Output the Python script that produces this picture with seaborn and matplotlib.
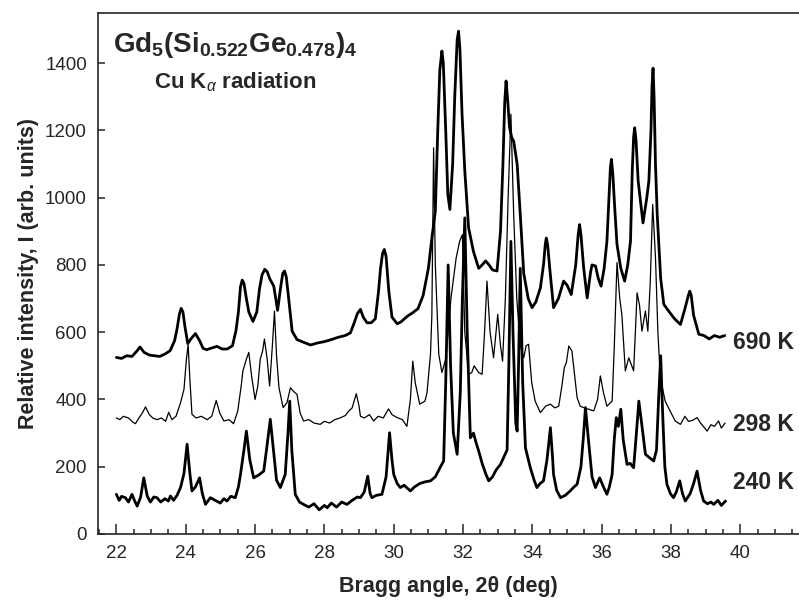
import matplotlib
matplotlib.use("Agg")
import matplotlib.pyplot as plt
from matplotlib.ticker import MultipleLocator
import seaborn as sns
import pandas as pd

# ---- data ----
x_690 = [22.00, 22.15, 22.30, 22.45, 22.60, 22.68, 22.80, 22.95, 23.10, 23.25, 23.40, 23.55, 23.68, 23.75,
         23.82, 23.87, 23.92, 23.98, 24.06, 24.15, 24.28, 24.40, 24.50, 24.60, 24.75, 24.90, 25.05, 25.20,
         25.35, 25.45, 25.52, 25.58, 25.63, 25.68, 25.75, 25.82, 25.94, 26.05, 26.13, 26.20, 26.28, 26.35,
         26.42, 26.54, 26.65, 26.74, 26.80, 26.85, 26.90, 26.97, 27.07, 27.21, 27.40, 27.60, 27.80, 28.00,
         28.20, 28.40, 28.60, 28.75, 28.85, 28.95, 29.04, 29.12, 29.23, 29.35, 29.47, 29.56, 29.62, 29.68,
         29.73, 29.78, 29.86, 29.95, 30.10, 30.20, 30.40, 30.55, 30.70, 30.85, 31.00, 31.10, 31.20, 31.27,
         31.33, 31.39, 31.43, 31.50, 31.56, 31.62, 31.70, 31.76, 31.83, 31.87, 31.91, 31.97, 32.05, 32.16,
         32.30, 32.45, 32.55, 32.65, 32.75, 32.85, 32.98, 33.08, 33.15, 33.20, 33.24, 33.28, 33.34, 33.40,
         33.46, 33.56, 33.65, 33.75, 33.88, 33.99, 34.10, 34.23, 34.32, 34.37, 34.40, 34.44, 34.50, 34.61,
         34.75, 34.90, 35.00, 35.12, 35.25, 35.32, 35.36, 35.40, 35.48, 35.58, 35.68, 35.72, 35.82, 35.90,
         35.98, 36.07, 36.15, 36.21, 36.25, 36.28, 36.32, 36.38, 36.44, 36.55, 36.66, 36.75, 36.83, 36.88,
         36.92, 36.95, 36.99, 37.05, 37.19, 37.30, 37.36, 37.42, 37.45, 37.48, 37.51, 37.55, 37.60, 37.70,
         37.79, 37.95, 38.10, 38.27, 38.40, 38.50, 38.54, 38.58, 38.65, 38.80, 38.95, 39.10, 39.25, 39.40,
         39.55]
y_690 = [525, 522, 530, 528, 545, 556, 540, 532, 530, 528, 535, 545, 575, 610,
         655, 671, 660, 615, 566, 580, 596, 575, 552, 548, 553, 558, 550, 550,
         560, 605, 660, 735, 755, 745, 700, 660, 632, 660, 730, 770, 787, 780,
         760, 737, 665, 735, 775, 782, 765, 700, 603, 578, 570, 562, 568, 572,
         578, 585, 590, 598, 625, 655, 668, 645, 628, 628, 640, 720, 790, 835,
         846, 825, 720, 645, 625, 630, 648, 658, 670, 710, 790, 880, 960, 1200,
         1380, 1436, 1400, 1200, 1010, 965, 1100, 1300, 1470, 1495, 1440, 1250, 1080, 910,
         840, 790, 800, 812, 800, 785, 782, 900, 1100, 1280, 1347, 1300, 1210, 1180,
         1168, 1100, 950, 775, 700, 673, 690, 732, 800, 860, 880, 860, 790, 673,
         700, 752, 740, 712, 800, 890, 920, 890, 790, 702, 780, 800, 797, 760,
         737, 790, 871, 1000, 1090, 1114, 1070, 960, 861, 790, 752, 800, 871, 1080,
         1180, 1208, 1170, 1050, 925, 1000, 1050, 1200, 1330, 1385, 1300, 1100, 950, 760,
         683, 660, 640, 623, 670, 710, 722, 710, 650, 594, 590, 580, 590, 585,
         590]

x_298 = [22.00, 22.10, 22.20, 22.35, 22.48, 22.55, 22.65, 22.75, 22.84, 22.95, 23.05, 23.17, 23.30, 23.42,
         23.51, 23.60, 23.72, 23.85, 23.95, 24.02, 24.07, 24.12, 24.18, 24.30, 24.45, 24.62, 24.75, 24.88,
         24.98, 25.10, 25.25, 25.38, 25.50, 25.60, 25.65, 25.75, 25.82, 25.90, 26.00, 26.08, 26.15, 26.22,
         26.27, 26.35, 26.42, 26.50, 26.56, 26.62, 26.69, 26.81, 26.92, 27.02, 27.10, 27.21, 27.30, 27.40,
         27.55, 27.70, 27.88, 28.00, 28.15, 28.30, 28.45, 28.60, 28.70, 28.80, 28.92, 29.00, 29.04, 29.15,
         29.30, 29.42, 29.55, 29.70, 29.85, 29.95, 30.10, 30.25, 30.38, 30.48, 30.55, 30.62, 30.75, 30.90,
         30.96, 31.06, 31.10, 31.15, 31.20, 31.30, 31.39, 31.50, 31.65, 31.80, 31.90, 31.98, 32.05, 32.16,
         32.25, 32.32, 32.45, 32.55, 32.62, 32.69, 32.78, 32.88, 32.95, 33.00, 33.08, 33.14, 33.22, 33.30,
         33.38, 33.46, 33.55, 33.65, 33.75, 33.82, 33.89, 33.98, 34.08, 34.23, 34.38, 34.52, 34.65, 34.76,
         34.85, 34.92, 34.98, 35.05, 35.14, 35.22, 35.29, 35.38, 35.50, 35.65, 35.77, 35.88, 35.96, 36.05,
         36.15, 36.30, 36.36, 36.44, 36.52, 36.58, 36.68, 36.78, 36.92, 37.02, 37.09, 37.16, 37.26, 37.33,
         37.40, 37.47, 37.55, 37.62, 37.69, 37.83, 37.95, 38.12, 38.27, 38.40, 38.50, 38.62, 38.75, 38.85,
         39.04, 39.15, 39.25, 39.37, 39.45, 39.56]
y_298 = [345, 340, 350, 345, 332, 328, 345, 360, 378, 355, 345, 340, 345, 335,
         362, 340, 350, 390, 430, 520, 562, 460, 356, 345, 350, 340, 350, 397,
         360, 336, 340, 328, 365, 440, 485, 520, 540, 470, 400, 440, 520, 545,
         580, 520, 440, 560, 663, 530, 435, 376, 390, 435, 425, 415, 360, 336,
         340, 330, 326, 335, 330, 340, 345, 352, 365, 375, 417, 380, 350, 345,
         355, 336, 350, 345, 372, 355, 346, 340, 320, 400, 514, 450, 386, 395,
         420, 534, 650, 1148, 800, 534, 480, 520, 700, 820, 870, 890, 600, 475,
         480, 500, 480, 475, 600, 752, 600, 524, 600, 653, 560, 514, 700, 1000,
         1248, 950, 700, 560, 524, 560, 564, 450, 395, 361, 380, 386, 375, 380,
         440, 494, 510, 559, 544, 470, 405, 380, 375, 370, 366, 400, 470, 420,
         380, 395, 550, 807, 700, 653, 485, 524, 485, 717, 680, 603, 663, 603,
         750, 980, 822, 600, 465, 395, 370, 336, 326, 350, 335, 338, 346, 330,
         306, 325, 320, 336, 315, 330]

x_240 = [22.00, 22.08, 22.15, 22.26, 22.35, 22.45, 22.52, 22.60, 22.70, 22.79, 22.89, 22.98, 23.08, 23.17,
         23.28, 23.40, 23.50, 23.56, 23.65, 23.75, 23.85, 23.95, 24.04, 24.12, 24.18, 24.28, 24.40, 24.48,
         24.57, 24.71, 24.85, 25.00, 25.10, 25.19, 25.30, 25.43, 25.52, 25.58, 25.68, 25.75, 25.85, 25.96,
         26.10, 26.25, 26.33, 26.44, 26.52, 26.62, 26.73, 26.87, 26.95, 27.00, 27.06, 27.16, 27.28, 27.40,
         27.55, 27.70, 27.85, 28.00, 28.08, 28.20, 28.35, 28.50, 28.65, 28.80, 28.95, 29.04, 29.15, 29.25,
         29.32, 29.37, 29.50, 29.66, 29.78, 29.88, 29.95, 30.00, 30.10, 30.19, 30.30, 30.48, 30.60, 30.75,
         30.90, 31.06, 31.20, 31.35, 31.44, 31.50, 31.57, 31.64, 31.72, 31.83, 31.92, 31.98, 32.05, 32.12,
         32.21, 32.30, 32.38, 32.45, 32.55, 32.65, 32.74, 32.85, 32.95, 33.08, 33.18, 33.27, 33.32, 33.38,
         33.44, 33.52, 33.56, 33.60, 33.65, 33.72, 33.80, 33.94, 34.05, 34.13, 34.22, 34.32, 34.42, 34.52,
         34.58, 34.61, 34.70, 34.81, 34.95, 35.09, 35.20, 35.29, 35.40, 35.48, 35.53, 35.58, 35.62, 35.72,
         35.82, 35.94, 36.05, 36.15, 36.22, 36.30, 36.36, 36.42, 36.48, 36.55, 36.62, 36.73, 36.82, 36.92,
         37.00, 37.07, 37.15, 37.26, 37.40, 37.50, 37.58, 37.64, 37.70, 37.76, 37.82, 37.88, 37.98, 38.07,
         38.15, 38.25, 38.33, 38.41, 38.55, 38.65, 38.75, 38.85, 38.94, 39.05, 39.15, 39.23, 39.35, 39.45,
         39.57]
y_240 = [118, 100, 112, 108, 95, 118, 100, 83, 110, 167, 113, 95, 110, 108,
         95, 105, 98, 113, 100, 115, 138, 180, 267, 180, 128, 140, 167, 120,
         88, 108, 100, 92, 105, 98, 112, 108, 140, 177, 250, 306, 220, 167,
         175, 187, 250, 341, 260, 160, 138, 177, 300, 395, 250, 118, 95, 88,
         80, 90, 72, 85, 78, 92, 80, 95, 88, 100, 110, 108, 125, 172,
         120, 108, 115, 118, 170, 301, 220, 177, 150, 138, 145, 128, 140, 150,
         155, 158, 170, 200, 217, 450, 800, 500, 300, 237, 420, 700, 940, 600,
         286, 300, 270, 247, 210, 180, 158, 170, 190, 207, 230, 250, 500, 870,
         600, 330, 306, 500, 790, 450, 256, 197, 160, 138, 150, 158, 220, 316,
         230, 177, 130, 108, 115, 128, 140, 148, 200, 300, 376, 320, 276, 170,
         138, 167, 140, 118, 140, 177, 280, 346, 320, 371, 280, 207, 210, 197,
         300, 395, 330, 237, 225, 217, 250, 400, 530, 350, 200, 148, 120, 108,
         125, 158, 120, 98, 120, 150, 187, 130, 98, 90, 95, 88, 100, 85,
         98]

series_labels = ["690 K", "298 K", "240 K"]
label_pos_y = [569, 326, 152]
x_ticks = [22, 24, 26, 28, 30, 32, 34, 36, 38, 40]
y_ticks = [0, 200, 400, 600, 800, 1000, 1200, 1400]

# ---- style ----
sns.set_style("ticks")
plt.rcParams["font.family"] = ["Liberation Sans", "DejaVu Sans"]
plt.rcParams["mathtext.fontset"] = "custom"
plt.rcParams["mathtext.rm"] = "Liberation Sans"
plt.rcParams["mathtext.bf"] = "Liberation Sans:bold"
plt.rcParams["mathtext.it"] = "Liberation Sans:italic"

fig = plt.figure(figsize=(7.99, 6.01), dpi=100)
ax = fig.add_axes([98 / 799, 67 / 601, 1 - 98 / 799, (534 - 12.7) / 601])

frames = [
    pd.DataFrame({"angle": x_690, "intensity": y_690}),
    pd.DataFrame({"angle": x_298, "intensity": y_298}),
    pd.DataFrame({"angle": x_240, "intensity": y_240}),
]
widths = [2.0, 0.9, 2.0]
for df, lw in zip(frames, widths):
    sns.lineplot(data=df, x="angle", y="intensity", ax=ax, color="black",
                 linewidth=lw, estimator=None, sort=False)

for lab, yy in zip(series_labels, label_pos_y):
    ax.text(39.8, yy, lab, fontsize=16.5, fontweight="bold", ha="left", va="center")

ax.set_xlim(21.47, 41.69)
ax.set_ylim(0, 1550)
ax.set_xticks(x_ticks)
ax.set_yticks(y_ticks)
ax.xaxis.set_minor_locator(MultipleLocator(0.5))
ax.tick_params(axis="both", which="both", direction="in", labelsize=13.5, width=1.1)
ax.tick_params(axis="x", which="major", length=7, pad=8)
ax.tick_params(axis="x", which="minor", length=3.5)
ax.tick_params(axis="y", which="major", length=5, pad=8)
ax.tick_params(axis="y", which="minor", length=0)
for s in ["left", "bottom", "top"]:
    ax.spines[s].set_visible(True)
    ax.spines[s].set_linewidth(1.2)
ax.spines["right"].set_visible(False)

ax.set_xlabel("Bragg angle, 2θ (deg)", fontsize=15.5, fontweight="bold", labelpad=10)
ax.set_ylabel("Relative intensity, I (arb. units)", fontsize=15.5, fontweight="bold", labelpad=4)

ax.text(0.195, 0.938, r"$\mathbf{Gd_5(Si_{0.522}Ge_{0.478})_4}$", transform=ax.transAxes,
        fontsize=20, ha="center", va="center")
ax.text(0.195, 0.866, r"Cu K$_{\alpha}$ radiation", transform=ax.transAxes,
        fontsize=16, fontweight="bold", ha="center", va="center")

fig.savefig("out.png", dpi=100)
